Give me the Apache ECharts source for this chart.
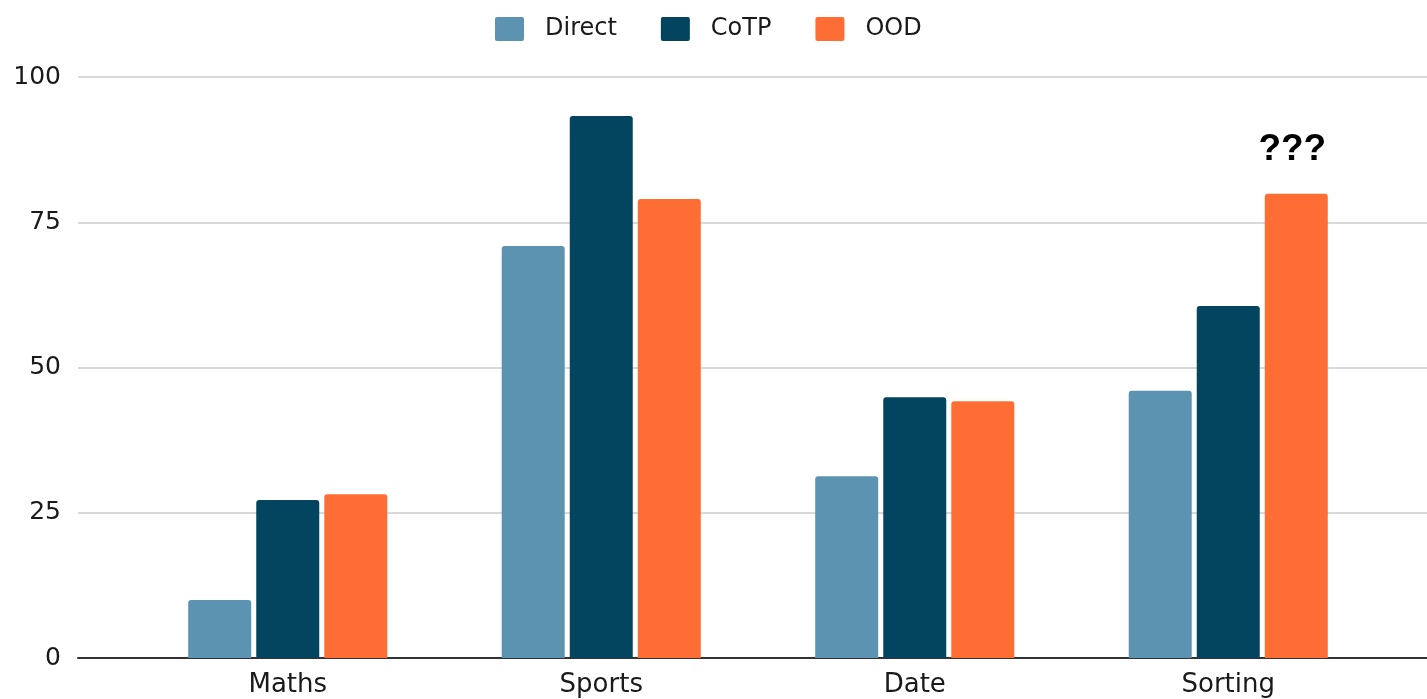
<!DOCTYPE html>
<html style="height: 100%">
<head>
    <meta charset="utf-8">
    <title>Direct / CoTP / OOD</title>
</head>
<body style="height: 100%; margin: 0; background: #fff">
    <div id="container" style="width: 1427px; height: 699px"></div>
    <script src="https://cdn.jsdelivr.net/npm/echarts@6/dist/echarts.min.js"></script>
    <script type="text/javascript">
        // data
        var categories = ['Maths', 'Sports', 'Date', 'Sorting'];
        var directValues = [10, 70.9, 31.3, 46];
        var cotpValues = [27.2, 93.3, 44.9, 60.6];
        var oodValues = [28.2, 79, 44.2, 79.9];
        var yTicks = [0, 25, 50, 75, 100];
        var markedCategory = 'Sorting';   // the OOD bar with "???" on top

        var colors = ['#5b93b0', '#03445f', '#fe6d33'];
        var fontName = 'DejaVu Sans';
        // small rounded square for the legend
        var legendIcon = 'path://M2,0 H27 A2,2 0 0 1 29,2 V22 A2,2 0 0 1 27,24 H2 A2,2 0 0 1 0,22 V2 A2,2 0 0 1 2,0 Z';

        var dom = document.getElementById('container');
        var myChart = echarts.init(dom);

        function barSeries(name, values, color, withMark) {
            return {
                name: name,
                type: 'bar',
                xAxisIndex: 1,
                yAxisIndex: 1,
                barWidth: 63,
                barGap: '8%',
                itemStyle: { color: color, borderRadius: [3, 3, 0, 0] },
                data: values.map(function (v, i) {
                    if (withMark && categories[i] === markedCategory) {
                        return {
                            value: v,
                            label: {
                                show: true,
                                position: 'top',
                                distance: 25,
                                formatter: '???',
                                fontFamily: 'Liberation Sans',
                                fontWeight: 'bold',
                                fontSize: 37,
                                color: '#000',
                                offset: [-4, 0]
                            }
                        };
                    }
                    return v;
                })
            };
        }

        var option = {
            animation: false,
            legend: {
                top: 12,
                left: 490,
                itemWidth: 29,
                itemHeight: 24,
                itemGap: 44,
                icon: legendIcon,
                textStyle: {
                    fontFamily: fontName,
                    fontSize: 24,
                    color: '#1a1a1a',
                    padding: [0, 0, 0, 16]
                },
                data: ['Direct', 'CoTP', 'OOD']
            },
            grid: [
                // frame for gridlines and baseline, full width
                { left: 78, right: 0, top: 77, bottom: 41 },
                // bars
                { left: 131, right: 42, top: 77, bottom: 41 }
            ],
            xAxis: [
                {
                    gridIndex: 0,
                    type: 'value',
                    min: 0,
                    max: 1,
                    axisLine: { show: true, lineStyle: { color: '#333', width: 2 } },
                    axisTick: { show: false },
                    axisLabel: { show: false },
                    splitLine: { show: false }
                },
                {
                    gridIndex: 1,
                    type: 'category',
                    data: categories,
                    axisLine: { show: false },
                    axisTick: { show: false },
                    axisLabel: {
                        margin: 14,
                        fontFamily: fontName,
                        fontSize: 26,
                        color: '#1a1a1a'
                    }
                }
            ],
            yAxis: [
                {
                    gridIndex: 0,
                    type: 'value',
                    min: yTicks[0],
                    max: yTicks[yTicks.length - 1],
                    interval: yTicks[1] - yTicks[0],
                    axisLine: { show: false },
                    axisTick: { show: false },
                    axisLabel: {
                        margin: 17,
                        fontFamily: fontName,
                        fontSize: 25,
                        color: '#1a1a1a'
                    },
                    splitLine: { lineStyle: { color: '#cccccc', width: 1.5 } }
                },
                {
                    gridIndex: 1,
                    type: 'value',
                    min: yTicks[0],
                    max: yTicks[yTicks.length - 1],
                    show: false
                }
            ],
            series: [
                barSeries('Direct', directValues, colors[0], false),
                barSeries('CoTP', cotpValues, colors[1], false),
                barSeries('OOD', oodValues, colors[2], true)
            ]
        };

        myChart.setOption(option);
    </script>
</body>
</html>
